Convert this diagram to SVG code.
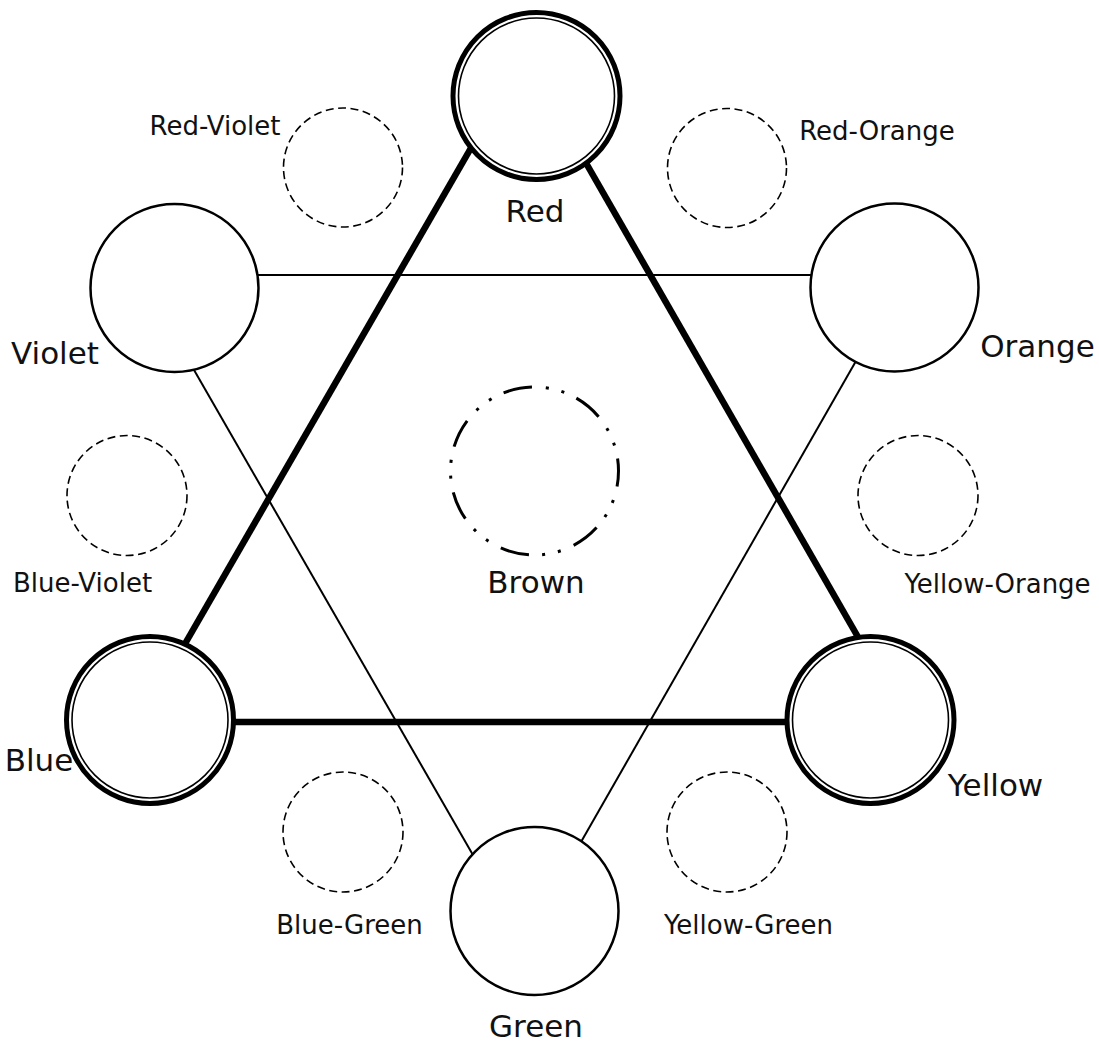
<svg xmlns="http://www.w3.org/2000/svg" width="1099" height="1043" viewBox="0 0 1099 1043">
<style>
.bg{fill:#fff}
.thin{stroke:#000;stroke-width:2;fill:none}
.thick{stroke:#000;stroke-width:6.5;fill:none}
.node{fill:#fff;stroke:#000;stroke-width:2.5}
.outer{fill:#fff;stroke:#000;stroke-width:5}
.inner{fill:none;stroke:#000;stroke-width:1.6}
.dash{fill:none;stroke:#000;stroke-width:1.6;stroke-dasharray:8 4.5}
.brown{fill:none;stroke:#000;stroke-width:3;stroke-dasharray:29 14 3 13 3 13.4;stroke-dashoffset:13.4}
.big{font-family:"DejaVu Sans",sans-serif;font-size:31px;fill:#111;text-anchor:middle}
.small{font-family:"DejaVu Sans",sans-serif;font-size:26px;fill:#111;text-anchor:middle}
</style>
<rect class="bg" x="0" y="0" width="1099" height="1043"/>
<g id="connectors">
<line class="thin" x1="240" y1="275" x2="830" y2="275"/>
<line class="thin" x1="190" y1="363" x2="477" y2="862"/>
<line class="thin" x1="860" y1="354" x2="577" y2="849"/>
<line class="thick" x1="475" y1="141" x2="182" y2="649"/>
<line class="thick" x1="582" y1="156" x2="862" y2="644"/>
<line class="thick" x1="225" y1="722" x2="795" y2="722"/>
</g>
<g id="red">
<circle class="outer" cx="536.5" cy="96" r="83.5"/>
<circle class="inner" cx="536.5" cy="96" r="78"/>
<text class="big" x="535" y="222">Red</text>
</g>
<g id="blue">
<circle class="outer" cx="150" cy="720" r="83.5"/>
<circle class="inner" cx="150" cy="720" r="78"/>
<text class="big" x="39" y="771">Blue</text>
</g>
<g id="yellow">
<circle class="outer" cx="870.5" cy="720" r="83.5"/>
<circle class="inner" cx="870.5" cy="720" r="78"/>
<text class="big" x="995.5" y="796">Yellow</text>
</g>
<g id="violet">
<circle class="node" cx="174.5" cy="288" r="84"/>
<text class="big" x="55" y="364">Violet</text>
</g>
<g id="orange">
<circle class="node" cx="894.5" cy="287.5" r="84"/>
<text class="big" x="1037.5" y="357">Orange</text>
</g>
<g id="green">
<circle class="node" cx="534.5" cy="911" r="84"/>
<text class="big" x="536" y="1037">Green</text>
</g>
<g id="brown">
<circle class="brown" cx="534.5" cy="471" r="84"/>
<text class="big" x="536" y="593">Brown</text>
</g>
<g id="red-violet">
<circle class="dash" cx="343" cy="167.5" r="59.5"/>
<text class="small" x="215" y="135">Red-Violet</text>
</g>
<g id="red-orange">
<circle class="dash" cx="727" cy="168" r="59.5"/>
<text class="small" x="877" y="140">Red-Orange</text>
</g>
<g id="blue-violet">
<circle class="dash" cx="127" cy="495.5" r="60"/>
<text class="small" x="82.5" y="592">Blue-Violet</text>
</g>
<g id="yellow-orange">
<circle class="dash" cx="918" cy="495.5" r="60"/>
<text class="small" x="997.5" y="593">Yellow-Orange</text>
</g>
<g id="blue-green">
<circle class="dash" cx="343" cy="832" r="60"/>
<text class="small" x="349.5" y="934">Blue-Green</text>
</g>
<g id="yellow-green">
<circle class="dash" cx="727" cy="832" r="60"/>
<text class="small" x="748.5" y="934">Yellow-Green</text>
</g>
</svg>
